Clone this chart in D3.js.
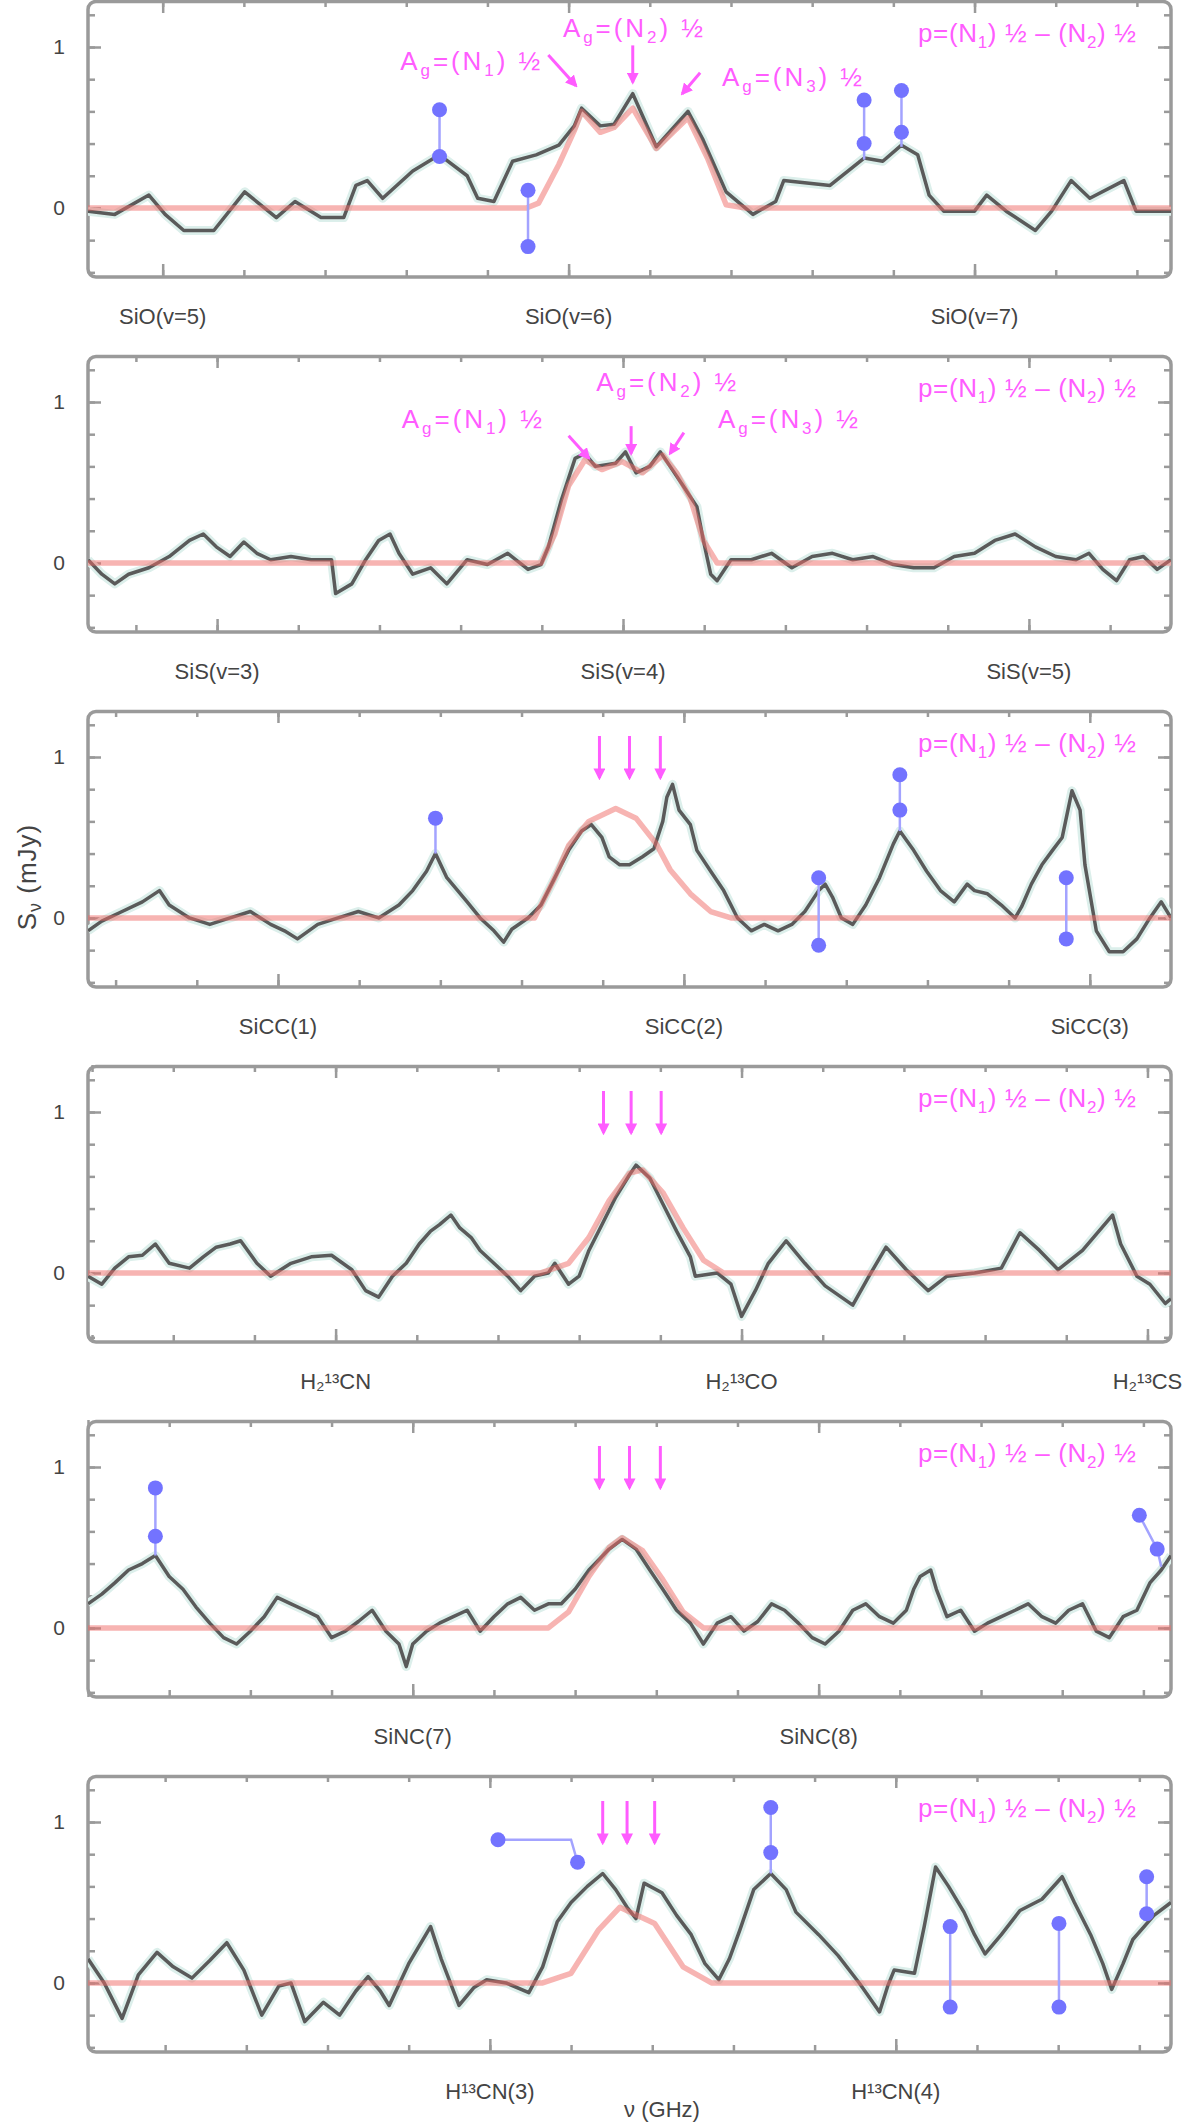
<!DOCTYPE html>
<html><head><meta charset="utf-8">
<script src="https://cdn.jsdelivr.net/npm/d3@7"></script>
<style>body{margin:0;background:#fff}svg{display:block}</style>
</head><body>
<svg id="c" width="1200" height="2124"></svg>
<script>
// ---------------- data ----------------
const obs1=[[0,-0.02],[0.33,-0.04],[0.75,0.08],[0.95,-0.04],[1.18,-0.14],[1.55,-0.14],[1.93,0.10],[2.32,-0.06],[2.55,0.04],[2.87,-0.06],[3.15,-0.06],[3.30,0.14],[3.44,0.17],[3.63,0.06],[4.0,0.23],[4.33,0.33],[4.67,0.2],[4.8,0.06],[5.0,0.04],[5.23,0.29],[5.52,0.33],[5.8,0.39],[5.99,0.51],[6.08,0.62],[6.31,0.51],[6.48,0.52],[6.71,0.71],[7.0,0.38],[7.39,0.6],[7.57,0.43],[7.86,0.1],[8.19,-0.04],[8.47,0.04],[8.57,0.17],[9.14,0.14],[9.56,0.31],[9.79,0.29],[10.02,0.39],[10.22,0.33],[10.36,0.08],[10.54,-0.02],[10.92,-0.02],[11.07,0.08],[11.31,-0.02],[11.67,-0.14],[11.87,-0.02],[12.11,0.17],[12.34,0.06],[12.76,0.17],[12.91,-0.02],[13.34,-0.02]];
const model1=[[0,0],[5.4,0],[5.55,0.03],[5.8,0.27],[5.99,0.48],[6.08,0.6],[6.31,0.47],[6.48,0.5],[6.71,0.62],[7.0,0.37],[7.39,0.56],[7.63,0.31],[7.86,0.02],[8.1,0],[13.34,0]];

const obs2=[[0,0.02],[0.17,-0.07],[0.33,-0.13],[0.5,-0.07],[0.75,-0.03],[1.0,0.04],[1.25,0.14],[1.42,0.18],[1.58,0.1],[1.75,0.04],[1.92,0.13],[2.08,0.06],[2.25,0.02],[2.5,0.04],[2.75,0.02],[3.0,0.02],[3.05,-0.19],[3.25,-0.13],[3.42,0.02],[3.58,0.14],[3.72,0.18],[3.83,0.06],[4.0,-0.07],[4.22,-0.03],[4.42,-0.13],[4.67,0.02],[4.92,-0.01],[5.17,0.06],[5.42,-0.04],[5.58,-0.01],[5.67,0.1],[5.83,0.39],[6.0,0.65],[6.12,0.68],[6.25,0.6],[6.5,0.62],[6.62,0.69],[6.75,0.56],[6.92,0.6],[7.05,0.69],[7.17,0.6],[7.33,0.48],[7.5,0.35],[7.58,0.14],[7.67,-0.07],[7.75,-0.11],[7.92,0.02],[8.17,0.02],[8.42,0.06],[8.67,-0.03],[8.92,0.04],[9.17,0.06],[9.42,0.02],[9.67,0.04],[9.92,-0.01],[10.17,-0.03],[10.42,-0.03],[10.67,0.04],[10.92,0.06],[11.17,0.14],[11.42,0.18],[11.67,0.1],[11.92,0.04],[12.17,0.02],[12.33,0.06],[12.5,-0.04],[12.67,-0.11],[12.83,0.02],[13.0,0.04],[13.17,-0.04],[13.34,0.02]];
const model2=[[0,0],[5.58,0],[5.75,0.18],[5.92,0.48],[6.12,0.64],[6.33,0.58],[6.58,0.63],[6.83,0.56],[7.08,0.67],[7.25,0.56],[7.42,0.4],[7.58,0.14],[7.75,0],[13.34,0]];

const obs3=[[0,-0.08],[0.17,-0.02],[0.42,0.04],[0.67,0.1],[0.88,0.17],[1.0,0.08],[1.25,0],[1.5,-0.04],[1.75,0],[2.0,0.04],[2.25,-0.04],[2.42,-0.08],[2.58,-0.13],[2.83,-0.04],[3.08,0],[3.33,0.04],[3.58,0],[3.83,0.08],[4.0,0.17],[4.17,0.29],[4.28,0.4],[4.42,0.25],[4.67,0.1],[4.83,0],[5.0,-0.08],[5.12,-0.15],[5.22,-0.07],[5.42,0],[5.58,0.08],[5.75,0.25],[5.92,0.42],[6.08,0.54],[6.2,0.58],[6.33,0.5],[6.42,0.38],[6.55,0.33],[6.67,0.33],[6.83,0.38],[6.97,0.43],[7.08,0.6],[7.13,0.75],[7.2,0.83],[7.28,0.67],[7.42,0.58],[7.5,0.42],[7.67,0.29],[7.83,0.17],[8.0,0],[8.17,-0.08],[8.33,-0.04],[8.5,-0.08],[8.67,-0.04],[8.83,0.04],[9.0,0.17],[9.08,0.21],[9.17,0.13],[9.28,0],[9.42,-0.04],[9.58,0.08],[9.75,0.25],[9.92,0.46],[10.0,0.54],[10.17,0.42],[10.33,0.29],[10.5,0.17],[10.67,0.1],[10.83,0.21],[10.92,0.17],[11.08,0.15],[11.25,0.08],[11.42,0],[11.5,0.07],[11.62,0.21],[11.75,0.33],[11.88,0.42],[12.0,0.5],[12.12,0.79],[12.22,0.67],[12.28,0.33],[12.42,-0.08],[12.58,-0.21],[12.75,-0.21],[12.92,-0.13],[13.08,0],[13.22,0.1],[13.34,0]];
const model3=[[0,0],[5.5,0],[5.75,0.25],[5.92,0.45],[6.17,0.6],[6.5,0.68],[6.75,0.62],[7.0,0.46],[7.17,0.3],[7.42,0.15],[7.67,0.04],[7.92,0],[13.34,0]];

const obs4=[[0,-0.02],[0.17,-0.07],[0.33,0.03],[0.5,0.1],[0.67,0.11],[0.83,0.18],[1.0,0.06],[1.25,0.03],[1.42,0.1],[1.58,0.16],[1.75,0.18],[1.88,0.2],[2.08,0.06],[2.25,-0.02],[2.5,0.06],[2.75,0.1],[3.0,0.11],[3.25,0.02],[3.42,-0.11],[3.58,-0.15],[3.75,-0.02],[3.92,0.06],[4.08,0.18],[4.22,0.26],[4.33,0.3],[4.47,0.36],[4.58,0.28],[4.72,0.22],[4.83,0.14],[5.0,0.06],[5.17,-0.02],[5.33,-0.11],[5.5,-0.02],[5.67,0],[5.75,0.06],[5.92,-0.07],[6.05,-0.02],[6.17,0.14],[6.33,0.3],[6.5,0.47],[6.67,0.61],[6.75,0.67],[6.92,0.59],[7.08,0.43],[7.25,0.26],[7.42,0.1],[7.48,-0.02],[7.75,0],[7.92,-0.07],[8.05,-0.27],[8.22,-0.11],[8.38,0.06],[8.6,0.2],[8.83,0.06],[9.08,-0.08],[9.42,-0.2],[9.62,-0.02],[9.83,0.16],[10.08,0.02],[10.35,-0.11],[10.58,-0.02],[10.92,0],[11.25,0.03],[11.48,0.25],[11.72,0.14],[11.95,0.02],[12.25,0.14],[12.62,0.36],[12.72,0.18],[12.92,-0.02],[13.08,-0.07],[13.27,-0.19],[13.34,-0.16]];
const model4=[[0,0],[5.58,0],[5.92,0.06],[6.17,0.22],[6.42,0.45],[6.67,0.62],[6.83,0.64],[7.08,0.5],[7.33,0.28],[7.58,0.08],[7.83,0],[13.34,0]];

const obs5=[[0,0.15],[0.17,0.21],[0.33,0.28],[0.5,0.36],[0.67,0.4],[0.83,0.45],[1.0,0.32],[1.17,0.24],[1.33,0.13],[1.5,0.03],[1.67,-0.06],[1.83,-0.1],[2.0,-0.02],[2.17,0.07],[2.33,0.19],[2.5,0.15],[2.67,0.11],[2.83,0.07],[3.0,-0.06],[3.17,-0.02],[3.33,0.04],[3.5,0.11],[3.67,-0.02],[3.83,-0.1],[3.92,-0.24],[4.0,-0.1],[4.17,-0.02],[4.33,0.03],[4.5,0.07],[4.67,0.11],[4.83,-0.02],[5.0,0.07],[5.17,0.15],[5.33,0.19],[5.5,0.11],[5.67,0.15],[5.83,0.15],[6.0,0.24],[6.17,0.36],[6.42,0.49],[6.58,0.55],[6.75,0.49],[6.92,0.36],[7.08,0.24],[7.25,0.11],[7.42,0.03],[7.58,-0.1],[7.75,0.03],[7.92,0.07],[8.08,-0.02],[8.25,0.04],[8.42,0.15],[8.58,0.11],[8.75,0.03],[8.92,-0.06],[9.08,-0.1],[9.25,-0.02],[9.42,0.11],[9.58,0.15],[9.75,0.07],[9.92,0.03],[10.08,0.11],[10.17,0.24],[10.25,0.32],[10.38,0.36],[10.45,0.24],[10.58,0.07],[10.75,0.11],[10.92,-0.02],[11.08,0.03],[11.25,0.07],[11.42,0.11],[11.58,0.15],[11.75,0.07],[11.92,0.03],[12.08,0.11],[12.25,0.15],[12.42,-0.02],[12.58,-0.06],[12.75,0.07],[12.92,0.11],[13.08,0.28],[13.22,0.36],[13.34,0.45]];
const model5=[[0,0],[5.67,0],[5.92,0.1],[6.17,0.32],[6.42,0.5],[6.58,0.56],[6.83,0.48],[7.08,0.3],[7.33,0.1],[7.58,0],[13.34,0]];

const obs6=[[0,0.15],[0.2,0.0],[0.42,-0.22],[0.62,0.05],[0.85,0.19],[1.05,0.1],[1.28,0.03],[1.5,0.14],[1.71,0.25],[1.92,0.08],[2.14,-0.2],[2.35,-0.02],[2.5,0.0],[2.67,-0.24],[2.9,-0.12],[3.1,-0.2],[3.3,-0.05],[3.45,0.04],[3.6,-0.05],[3.71,-0.14],[3.95,0.12],[4.22,0.35],[4.35,0.15],[4.57,-0.14],[4.75,-0.03],[4.91,0.02],[5.15,0.0],[5.43,-0.06],[5.6,0.1],[5.78,0.38],[5.95,0.5],[6.15,0.6],[6.34,0.68],[6.5,0.58],[6.64,0.47],[6.75,0.4],[6.85,0.62],[7.07,0.56],[7.25,0.42],[7.43,0.3],[7.6,0.12],[7.77,0.02],[7.9,0.15],[8.03,0.33],[8.2,0.58],[8.41,0.68],[8.6,0.58],[8.72,0.44],[9.0,0.3],[9.24,0.17],[9.5,0.0],[9.75,-0.18],[9.85,-0.02],[9.93,0.08],[10.18,0.06],[10.3,0.35],[10.44,0.72],[10.6,0.6],[10.79,0.44],[10.92,0.3],[11.05,0.18],[11.25,0.3],[11.48,0.45],[11.75,0.52],[12.0,0.66],[12.15,0.5],[12.35,0.3],[12.5,0.12],[12.61,-0.04],[12.75,0.12],[12.87,0.27],[13.13,0.42],[13.34,0.5]];
const model6=[[0,0],[5.6,0],[5.95,0.06],[6.29,0.33],[6.55,0.47],[6.98,0.37],[7.33,0.1],[7.68,0],[13.34,0]];

// axis ticks: first minor tick position per panel, and major (labelled) positions
const minorStart=[0.92,0.59,0.34,0.05,0.0,0.95];
const majors1=[0.92,5.92,10.92], names1=["SiO(v=5)","SiO(v=6)","SiO(v=7)"];
const majors2=[1.59,6.59,11.59], names2=["SiS(v=3)","SiS(v=4)","SiS(v=5)"];
const majors3=[2.34,7.34,12.34], names3=["SiCC(1)","SiCC(2)","SiCC(3)"];
const majors4=[3.05,8.05,13.05], names4=["H\u2082\u00b9\u00b3CN","H\u2082\u00b9\u00b3CO","H\u2082\u00b9\u00b3CS"];
const majors5=[4.0,9.0], names5=["SiNC(7)","SiNC(8)"];
const majors6=[4.95,9.95], names6=["H\u00b9\u00b3CN(3)","H\u00b9\u00b3CN(4)"];
const yTickLabels=[0,1];

// blue markers: path points and dot points [x, value]
const markers1=[{p:[[4.33,0.61],[4.33,0.32]],d:[[4.33,0.61],[4.33,0.32]]},{p:[[5.42,0.11],[5.42,-0.24]],d:[[5.42,0.11],[5.42,-0.24]]},{p:[[9.56,0.67],[9.56,0.3]],d:[[9.56,0.67],[9.56,0.4]]},{p:[[10.02,0.73],[10.02,0.38]],d:[[10.02,0.73],[10.02,0.47]]}];
const markers3=[{p:[[4.28,0.62],[4.28,0.4]],d:[[4.28,0.62]]},{p:[[9.0,0.25],[9.0,-0.17]],d:[[9.0,0.25],[9.0,-0.17]]},{p:[[10.0,0.89],[10.0,0.54]],d:[[10.0,0.89],[10.0,0.67]]},{p:[[12.05,0.25],[12.05,-0.13]],d:[[12.05,0.25],[12.05,-0.13]]}];
const markers5=[{p:[[0.83,0.87],[0.83,0.45]],d:[[0.83,0.87],[0.83,0.57]]},{p:[[12.95,0.7],[13.17,0.49],[13.22,0.38]],d:[[12.95,0.7],[13.17,0.49]]}];
const markers6=[{p:[[5.05,0.89],[5.95,0.89],[6.03,0.75]],d:[[5.05,0.89],[6.03,0.75]]},{p:[[8.41,1.09],[8.41,0.68]],d:[[8.41,1.09],[8.41,0.81]]},{p:[[10.62,0.35],[10.62,-0.15]],d:[[10.62,0.35],[10.62,-0.15]]},{p:[[11.96,0.37],[11.96,-0.15]],d:[[11.96,0.37],[11.96,-0.15]]},{p:[[13.04,0.66],[13.04,0.4]],d:[[13.04,0.66],[13.04,0.43]]}];

// magenta transition labels [x, value, anchor, sub]
const tags1=[[5.57,0.86,"end","1"],[5.85,1.06,"start","2"],[7.81,0.76,"start","3"]];
const tags2=[[5.59,0.84,"end","1"],[6.26,1.07,"start","2"],[7.76,0.84,"start","3"]];
// magenta arrows [x1,v1,x2,v2]
const arrows1=[[5.67,0.95,6.01,0.76],[6.71,1.01,6.71,0.78],[7.54,0.84,7.32,0.71]];
const arrows2=[[5.92,0.79,6.17,0.65],[6.69,0.85,6.69,0.68],[7.34,0.81,7.17,0.68]];
// vertical magenta arrows (x positions)
const down3=[6.3,6.67,7.05], down4=[6.35,6.69,7.06], down5=[6.3,6.67,7.05], down6=[6.34,6.64,6.98];

// ---------------- drawing ----------------
const svg=d3.select("#c");
const L=88,R=1171,PH=277,PITCH=355;
const pink="#ff5cff", blue="#7373ff";
const font="'Liberation Sans', Arial, sans-serif";

const defs=svg.append("defs");
defs.append("marker").attr("id","ah").attr("viewBox","0 0 10 10").attr("refX",8).attr("refY",5)
  .attr("markerWidth",4).attr("markerHeight",4).attr("orient","auto")
  .append("path").attr("d","M0,0L10,5L0,10z").attr("fill",pink);

const panels=[
 {obs:obs1,mod:model1,maj:majors1,names:names1,mk:markers1,tags:tags1,arr:arrows1,down:null},
 {obs:obs2,mod:model2,maj:majors2,names:names2,mk:[],tags:tags2,arr:arrows2,down:null},
 {obs:obs3,mod:model3,maj:majors3,names:names3,mk:markers3,tags:[],arr:[],down:down3},
 {obs:obs4,mod:model4,maj:majors4,names:names4,mk:[],tags:[],arr:[],down:down4},
 {obs:obs5,mod:model5,maj:majors5,names:names5,mk:markers5,tags:[],arr:[],down:down5},
 {obs:obs6,mod:model6,maj:majors6,names:names6,mk:markers6,tags:[],arr:[],down:down6}
];

function tagText(sel,sub){
  sel.append("tspan").text("A");
  sel.append("tspan").attr("font-size",17).attr("dy",6).text("g");
  sel.append("tspan").attr("dy",-6).text("=(N");
  sel.append("tspan").attr("font-size",17).attr("dy",6).text(sub);
  sel.append("tspan").attr("dy",-6).text(") \u00bd");
}

panels.forEach((P,i)=>{
  const top=i*PITCH;
  const x=d3.scaleLinear().domain([0,13.34]).range([L,R]);
  const y=d3.scaleLinear().domain([-0.429,1.292]).range([top+PH,top]);
  const g=svg.append("g");
  const cid="clip"+i;
  defs.append("clipPath").attr("id",cid).append("rect").attr("x",L).attr("y",top).attr("width",R-L).attr("height",PH);

  // ticks
  const minor=d3.range(minorStart[i],13.34,1);
  const yMinor=d3.range(-0.4,1.21,0.2).map(v=>+v.toFixed(2));
  const tickStyle=s=>{s.select(".domain").remove();s.selectAll("line").attr("stroke","#9a9a9a").attr("stroke-width",2.5);};
  g.append("g").attr("transform",`translate(0,${top+PH})`).call(d3.axisBottom(x).tickValues(minor).tickSize(-7).tickFormat("")).call(tickStyle);
  g.append("g").attr("transform",`translate(0,${top})`).call(d3.axisTop(x).tickValues(minor).tickSize(-7).tickFormat("")).call(tickStyle);
  g.append("g").attr("transform",`translate(0,${top+PH})`).call(d3.axisBottom(x).tickValues(P.maj).tickSize(-13).tickFormat("")).call(tickStyle);
  g.append("g").attr("transform",`translate(0,${top})`).call(d3.axisTop(x).tickValues(P.maj).tickSize(-13).tickFormat("")).call(tickStyle);
  g.append("g").attr("transform",`translate(${L},0)`).call(d3.axisLeft(y).tickValues(yMinor).tickSize(-7).tickFormat("")).call(tickStyle);
  g.append("g").attr("transform",`translate(${R},0)`).call(d3.axisRight(y).tickValues(yMinor).tickSize(-7).tickFormat("")).call(tickStyle);
  g.append("g").attr("transform",`translate(${L},0)`).call(d3.axisLeft(y).tickValues(yTickLabels).tickSize(-13).tickFormat("")).call(tickStyle);
  g.append("g").attr("transform",`translate(${R},0)`).call(d3.axisRight(y).tickValues(yTickLabels).tickSize(-13).tickFormat("")).call(tickStyle);

  // frame
  g.append("rect").attr("x",L).attr("y",top+1.5).attr("width",R-L).attr("height",PH-1.5).attr("rx",8)
    .attr("fill","none").attr("stroke","#9a9a9a").attr("stroke-width",3.5);

  // y tick labels
  yTickLabels.forEach(v=>g.append("text").attr("x",59).attr("y",y(v)+7).attr("text-anchor","middle")
    .attr("font-family",font).attr("font-size",21).attr("fill","#444").text(v));

  // species labels under panel
  P.maj.forEach((m,k)=>g.append("text").attr("x",x(m)).attr("y",top+PH+47).attr("text-anchor","middle")
    .attr("font-family",font).attr("font-size",22).attr("fill","#444").text(P.names[k]));

  // spectra
  const line=d3.line().x(d=>x(d[0])).y(d=>y(d[1]));
  const cg=g.append("g").attr("clip-path",`url(#${cid})`);
  cg.append("path").datum(P.obs).attr("d",line).attr("fill","none").attr("stroke","#dcefeb").attr("stroke-width",9).attr("stroke-linejoin","round");
  cg.append("path").datum(P.obs).attr("d",line).attr("fill","none").attr("stroke","#5a5a5a").attr("stroke-width",3.5).attr("stroke-linejoin","round");
  cg.append("path").datum(P.mod).attr("d",line).attr("fill","none").attr("stroke","#f06a66").attr("stroke-opacity",0.5).attr("stroke-width",5.5).attr("stroke-linejoin","round");

  // blue markers
  P.mk.forEach(m=>{
    g.append("path").datum(m.p).attr("d",line).attr("fill","none").attr("stroke","#a3a3ff").attr("stroke-width",2.5);
    m.d.forEach(d=>g.append("circle").attr("cx",x(d[0])).attr("cy",y(d[1])).attr("r",7.5).attr("fill",blue));
  });

  // magenta tags and arrows
  P.tags.forEach(t=>{
    const tx=g.append("text").attr("x",x(t[0])).attr("y",y(t[1])).attr("text-anchor",t[2])
      .attr("font-family",font).attr("font-size",26).attr("fill",pink)
      .attr("textLength",140).attr("lengthAdjust","spacing");
    tagText(tx,t[3]);
  });
  P.arr.forEach(a=>g.append("line").attr("x1",x(a[0])).attr("y1",y(a[1])).attr("x2",x(a[2])).attr("y2",y(a[3]))
    .attr("stroke",pink).attr("stroke-width",3).attr("marker-end","url(#ah)"));
  if(P.down){
    P.down.forEach(d=>g.append("line").attr("x1",x(d)).attr("x2",x(d)).attr("y1",top+26).attr("y2",top+68)
      .attr("stroke",pink).attr("stroke-width",3).attr("marker-end","url(#ah)"));
  }

  // top-right transition label
  const tr=g.append("text").attr("x",918).attr("y",top+42).attr("font-family",font).attr("font-size",26).attr("fill",pink)
    .attr("textLength",218).attr("lengthAdjust","spacing");
  tr.append("tspan").text("p=(N");
  tr.append("tspan").attr("font-size",17).attr("dy",6).text("1");
  tr.append("tspan").attr("dy",-6).text(") \u00bd \u2013 (N");
  tr.append("tspan").attr("font-size",17).attr("dy",6).text("2");
  tr.append("tspan").attr("dy",-6).text(") \u00bd");
});

// axis titles
const yt=svg.append("text").attr("transform","translate(36,877) rotate(-90)").attr("text-anchor","middle")
  .attr("font-family",font).attr("font-size",26).attr("fill","#444").attr("letter-spacing",1);
yt.append("tspan").text("S");
yt.append("tspan").attr("font-size",18).attr("dy",5).text("\u03bd");
yt.append("tspan").attr("dy",-5).text(" (mJy)");
svg.append("text").attr("x",662).attr("y",2117).attr("text-anchor","middle").attr("font-family",font)
  .attr("font-size",22).attr("fill","#444").text("\u03bd  (GHz)");
</script>
</body></html>
